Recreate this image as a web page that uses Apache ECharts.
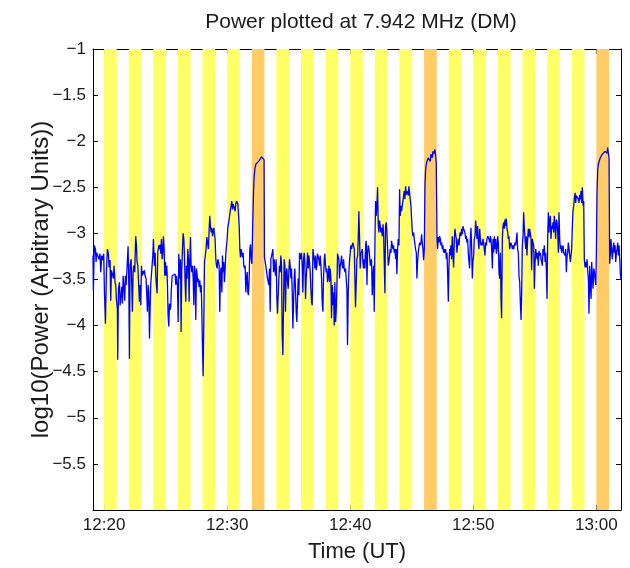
<!DOCTYPE html>
<html><head><meta charset="utf-8">
<script src="https://cdn.jsdelivr.net/npm/echarts@6/dist/echarts.min.js"></script>
<style>html,body{margin:0;padding:0;background:#fff}#c{width:630px;height:568px}</style>
</head><body><div id="c"></div>
<script>
// time in minutes after 12:00 UT
const timeMin = [
19.10,19.13,19.21,19.30,19.35,19.40,19.51,19.59,19.67,19.73,
19.81,19.89,19.97,20.03,20.11,20.19,20.27,20.35,20.41,20.49,
20.54,20.60,20.68,20.76,20.81,20.89,20.95,21.00,21.08,21.11,
21.17,21.25,21.30,21.38,21.44,21.49,21.55,21.63,21.68,21.73,
21.79,21.84,21.90,21.95,22.01,22.06,22.11,22.20,22.25,22.30,
22.36,22.41,22.49,22.57,22.63,22.68,22.74,22.79,22.87,22.93,
22.98,23.04,23.09,23.14,23.20,23.28,23.33,23.41,23.47,23.52,
23.58,23.63,23.69,23.74,23.79,23.85,23.90,23.96,24.01,24.09,
24.15,24.20,24.25,24.31,24.36,24.44,24.50,24.55,24.61,24.66,
24.72,24.77,24.82,24.88,24.93,24.99,25.04,25.10,25.15,25.20,
25.26,25.31,25.37,25.42,25.47,25.53,25.61,25.69,25.77,25.83,
25.88,25.96,26.02,26.07,26.12,
26.15,26.21,26.26,26.31,26.37,26.42,26.48,26.53,26.59,26.64,
26.69,26.75,26.80,26.86,26.91,26.96,27.02,27.07,27.13,27.18,
27.24,27.29,27.34,27.40,27.45,27.51,27.56,27.61,27.67,27.72,
27.78,27.83,27.89,27.94,27.99,28.05,28.10,28.16,28.24,28.29,
28.35,28.43,28.48,28.54,28.59,28.64,28.70,28.75,28.81,28.86,
28.92,28.97,29.02,29.08,29.13,29.19,29.24,29.30,29.35,29.40,
29.46,29.51,29.57,29.62,29.67,29.73,29.78,29.84,29.89,29.95,
30.00,30.05,30.11,30.16,30.22,30.27,30.32,30.38,30.43,30.49,
30.54,30.60,30.65,30.70,30.76,30.81,30.87,30.92,30.98,31.03,
31.08,31.14,31.19,31.25,31.30,31.35,31.41,31.46,31.52,31.57,
31.63,31.68,31.73,31.79,31.84,31.90,31.95,32.01,32.08,32.14,
32.19,32.25,32.33,32.45,32.60,32.71,32.80,32.87,32.95,33.00,
33.03,33.14,33.28,
33.33,33.39,33.44,33.50,33.55,33.60,33.66,33.71,33.77,33.82,
33.88,33.93,33.98,34.04,34.09,34.15,34.20,34.25,34.31,34.36,
34.42,34.47,34.53,34.58,34.63,34.69,34.74,34.80,34.85,34.91,
34.96,35.01,35.07,35.12,35.18,35.23,35.29,35.34,35.39,35.45,
35.50,35.56,35.61,35.66,35.72,35.77,35.83,35.88,35.94,35.99,
36.04,36.10,36.15,36.21,36.26,36.31,36.37,36.42,36.48,36.53,
36.59,36.64,36.69,36.75,36.80,36.86,36.91,36.97,37.02,37.07,
37.13,37.18,37.24,37.29,37.34,37.40,37.45,37.51,37.56,37.62,
37.67,37.72,37.78,37.83,37.89,37.94,37.99,38.05,38.10,38.16,
38.21,38.27,38.32,38.37,38.43,38.48,38.54,38.59,38.65,38.70,
38.75,38.81,38.86,38.92,38.97,39.02,39.08,39.13,39.19,39.24,
39.30,39.35,39.40,39.46,39.51,39.57,39.62,39.67,39.73,39.78,
39.84,39.89,39.95,40.00,40.05,40.11,40.16,40.22,40.27,40.33,
40.38,40.43,
40.49,40.54,40.60,40.65,40.70,40.76,40.81,40.87,40.92,40.98,
41.03,41.08,41.14,41.19,41.25,41.30,41.36,41.41,41.46,41.52,
41.57,41.63,41.68,41.73,41.79,41.84,41.90,41.95,42.01,42.06,
42.11,42.17,42.22,42.28,42.33,42.38,42.44,42.49,42.55,42.60,
42.66,42.71,42.76,42.82,42.87,42.93,42.98,43.04,43.09,43.14,
43.20,43.25,43.31,43.36,43.41,43.47,43.52,43.58,43.63,43.69,
43.74,43.79,43.85,43.90,43.96,44.01,44.06,44.12,44.17,44.23,
44.28,44.34,44.39,44.44,44.50,44.55,44.61,44.66,44.72,44.77,
44.82,44.88,44.93,44.99,45.04,45.09,45.15,45.20,45.26,45.31,
45.37,45.42,45.47,45.53,45.58,45.64,45.69,45.75,45.80,45.85,
45.91,45.96,46.02,46.07,46.12,46.18,46.23,46.29,46.34,46.40,
46.45,46.50,46.56,46.61,46.67,46.72,46.77,46.83,46.88,46.94,
46.99,47.05,47.10,47.15,47.21,47.26,47.32,47.37,47.43,47.48,
47.53,47.59,
47.64,47.70,47.75,47.81,47.86,47.91,47.97,48.02,48.08,48.13,
48.18,48.24,48.29,48.35,48.40,48.46,48.51,48.56,48.62,48.67,
48.73,48.78,48.84,48.89,48.94,49.00,49.05,49.11,49.16,49.21,
49.27,49.32,49.38,49.43,49.49,49.54,49.59,49.65,49.70,49.76,
49.81,49.86,49.92,49.97,50.03,50.08,50.14,50.19,50.24,50.30,
50.35,50.41,50.46,50.52,50.57,50.62,50.68,50.73,50.79,50.84,
50.89,50.95,51.00,51.06,51.11,51.17,51.22,51.27,51.33,51.38,
51.44,51.49,51.55,51.60,51.65,51.71,51.76,51.82,51.87,51.92,
51.98,52.03,52.09,52.14,52.20,52.25,52.30,52.36,52.41,52.47,
52.52,52.57,52.63,52.68,52.74,52.79,52.85,52.90,52.95,53.01,
53.06,53.12,53.17,53.23,53.28,53.33,53.39,53.44,53.50,53.55,
53.60,53.66,53.71,53.77,53.82,53.88,53.93,53.98,54.04,54.09,
54.15,54.20,54.26,54.31,54.36,54.42,54.47,54.53,54.58,54.63,
54.69,54.74,
54.80,54.85,54.91,54.96,55.01,55.07,55.12,55.18,55.23,55.28,
55.34,55.39,55.45,55.50,55.55,55.61,55.66,55.72,55.77,55.83,
55.88,55.93,55.99,56.04,56.10,56.15,56.21,56.26,56.31,56.37,
56.42,56.48,56.53,56.58,56.64,56.69,56.75,56.80,56.86,56.91,
56.96,57.02,57.07,57.13,57.18,57.24,57.29,57.34,57.40,57.45,
57.51,57.56,57.62,57.67,57.72,57.78,57.83,57.89,57.94,57.99,
58.05,58.10,58.16,58.21,58.27,58.32,58.37,58.43,58.48,58.54,
58.59,58.64,58.70,58.75,58.81,58.86,58.92,58.97,59.02,59.08,
59.13,59.19,59.24,59.30,59.35,59.40,59.46,59.51,59.57,59.62,
59.67,59.73,59.78,59.84,59.89,59.95,60.00,60.05,60.11,60.16,
60.22,60.27,60.32,60.38,60.43,60.49,60.54,60.60,60.65,60.70,
60.76,60.81,60.87,60.92,60.98,61.03,61.08,61.14,61.19,61.25,
61.30,61.35,61.41,61.46,61.52,61.57,61.63,61.68,61.73,61.79,
61.84,61.90,61.95,62.00
];
// log10 power (arbitrary units)
const logPower = [
-3.24,-3.62,-3.13,-3.17,-3.31,-3.21,-3.20,-3.28,-3.22,-3.42,
-3.24,-3.29,-3.22,-3.64,-3.98,-3.42,-3.17,-3.22,-3.37,-3.29,
-3.73,-3.40,-3.38,-3.49,-3.35,-3.53,-3.56,-3.71,-3.82,-4.37,
-3.60,-3.53,-3.78,-3.67,-3.58,-3.76,-3.46,-3.44,-3.73,-3.46,
-3.56,-3.44,-3.28,-3.14,-3.56,-4.36,-3.35,-3.28,-3.29,-3.85,
-3.42,-3.35,-3.42,-3.03,-3.13,-3.31,-3.35,-3.49,-3.74,-3.56,
-3.78,-3.35,-3.46,-3.41,-3.44,-3.40,-3.46,-3.49,-3.67,-3.85,
-3.56,-3.64,-4.14,-3.82,-3.56,-3.56,-3.35,-3.24,-3.06,-3.35,
-3.21,-3.46,-3.56,-3.65,-3.21,-3.13,-3.17,-3.12,-3.22,-3.06,
-3.28,-3.21,-3.03,-3.17,-3.46,-3.31,-3.46,-3.35,-3.56,-3.89,
-4.01,-3.76,-3.83,-3.78,-3.60,-3.46,-3.44,-3.46,-3.44,-3.56,
-3.46,-3.56,-3.96,-3.22,-3.22,
-3.49,-3.28,-4.07,-3.42,-3.17,-3.00,-3.06,-3.24,-3.56,-3.74,
-3.35,-3.49,-3.17,-3.28,-3.74,-3.35,-3.04,-3.35,-3.42,-3.35,
-3.49,-3.78,-3.35,-3.42,-3.94,-3.38,-3.40,-3.53,-3.49,-3.58,
-3.51,-3.64,-3.56,-3.82,-4.21,-4.55,-4.00,-3.31,-3.29,-3.17,
-3.04,-3.04,-3.17,-2.95,-2.81,-2.92,-2.99,-2.94,-3.03,-2.97,
-2.94,-3.01,-3.06,-3.28,-3.35,-3.38,-3.28,-3.31,-3.35,-3.85,
-3.42,-3.37,-3.64,-3.24,-3.42,-3.31,-3.53,-3.38,-3.22,-3.24,
-3.06,-2.94,-2.95,-2.85,-2.83,-2.74,-2.70,-2.65,-2.74,-2.68,
-2.70,-2.67,-2.76,-2.68,-2.65,-2.67,-2.68,-2.67,-2.92,-3.17,
-3.26,-3.17,-3.21,-3.26,-3.21,-3.35,-3.38,-3.35,-3.64,-3.49,
-3.42,-3.64,-3.67,-3.49,-3.17,-3.12,-3.28,-3.33,-2.90,-2.55,
-2.40,-2.30,-2.25,-2.24,-2.21,-2.19,-2.17,-2.15,-2.16,-2.20,
-3.26,-3.35,-3.49,
-3.49,-3.56,-3.38,-3.85,-3.28,-3.27,-3.21,-3.17,-3.42,-3.28,
-3.38,-3.46,-3.28,-3.71,-3.87,-3.85,-3.49,-3.35,-3.42,-3.24,
-3.35,-4.10,-4.32,-3.78,-3.28,-3.35,-3.85,-3.42,-3.38,-3.53,
-3.60,-3.42,-3.28,-3.35,-3.49,-3.38,-3.64,-4.03,-3.78,-3.49,
-3.38,-3.64,-3.85,-3.96,-3.71,-3.49,-3.67,-3.21,-3.19,-3.28,
-3.21,-3.35,-3.64,-3.28,-3.21,-3.31,-3.71,-3.49,-3.35,-3.21,
-3.38,-3.24,-3.31,-3.42,-3.60,-3.74,-3.78,-3.17,-3.15,-3.28,
-3.38,-3.24,-3.40,-3.35,-3.22,-3.21,-3.28,-3.35,-3.24,-3.35,
-3.49,-3.74,-3.85,-3.49,-3.28,-3.22,-3.35,-3.42,-3.38,-3.53,
-3.46,-3.35,-3.53,-3.38,-3.49,-3.92,-3.56,-3.78,-3.64,-4.00,
-3.53,-3.96,-3.85,-3.56,-3.22,-3.21,-3.28,-3.49,-3.35,-3.31,
-3.24,-3.35,-3.38,-3.28,-3.38,-3.42,-3.38,-3.49,-3.60,-4.21,
-3.64,-3.42,-3.28,-3.21,-3.13,-3.17,-3.13,-3.10,-3.08,-3.17,
-3.49,-3.80,
-3.53,-3.28,-3.24,-3.06,-2.76,-3.06,-3.38,-3.22,-3.24,-3.17,
-3.31,-3.38,-3.28,-3.38,-3.13,-3.08,-3.56,-3.21,-3.13,-3.17,
-3.24,-3.35,-3.37,-3.28,-3.67,-3.46,-3.35,-3.85,-3.06,-2.65,
-2.81,-2.70,-2.50,-2.92,-2.99,-2.86,-2.92,-2.99,-2.94,-3.03,
-2.90,-2.99,-3.01,-3.65,-2.92,-2.88,-2.99,-3.17,-3.35,-3.31,
-3.24,-3.17,-3.21,-3.08,-3.06,-3.17,-3.13,-3.21,-3.17,-3.28,
-3.17,-3.44,-3.17,-3.06,-3.13,-2.52,-2.81,-2.70,-2.76,-2.74,
-2.65,-2.67,-2.54,-2.63,-2.49,-2.58,-2.54,-2.52,-2.59,-2.49,
-2.56,-2.56,-2.70,-2.85,-2.97,-3.03,-2.99,-3.06,-3.04,-3.17,
-3.21,-3.49,-3.31,-3.21,-3.15,-3.10,-3.13,-3.10,-3.01,-3.10,
-3.17,-3.29,-3.17,-2.49,-2.32,-2.25,-2.22,-2.20,-2.18,-2.18,
-2.16,-2.22,-2.14,-2.16,-2.18,-2.11,-2.14,-2.13,-2.09,-2.16,
-2.23,-3.06,-3.17,-3.04,-3.10,-3.03,-3.06,-3.13,-3.10,-3.17,
-3.13,-3.21,
-3.17,-3.21,-3.17,-3.28,-3.21,-3.42,-3.74,-3.35,-3.17,-3.24,
-3.13,-3.28,-3.03,-3.21,-3.37,-3.06,-2.95,-3.01,-3.06,-3.21,
-3.10,-3.06,-3.13,-3.03,-2.99,-3.03,-2.95,-3.01,-2.92,-2.95,
-2.97,-2.99,-3.06,-3.03,-3.10,-3.06,-3.21,-3.31,-3.38,-3.06,
-2.94,-3.13,-3.49,-3.31,-3.24,-3.06,-3.03,-2.86,-2.95,-3.06,
-2.92,-3.10,-3.17,-2.95,-3.06,-3.13,-3.10,-3.13,-3.06,-3.10,
-3.17,-3.24,-3.10,-3.13,-3.06,-3.03,-3.04,-3.06,-3.10,-3.03,
-3.06,-3.17,-3.38,-3.06,-3.21,-3.03,-3.17,-3.06,-3.22,-3.17,
-3.03,-3.10,-3.42,-3.49,-3.21,-3.71,-3.92,-3.06,-2.92,-2.88,
-2.95,-2.85,-2.92,-2.84,-2.95,-2.99,-3.06,-3.03,-3.17,-3.13,
-3.10,-3.13,-3.17,-3.13,-3.17,-3.13,-3.10,-3.13,-3.06,-2.99,
-3.17,-3.21,-3.46,-3.53,-3.74,-3.94,-3.64,-3.13,-3.03,-2.77,
-2.95,-3.06,-3.17,-3.03,-3.24,-3.06,-2.95,-3.04,-2.95,-2.94,
-3.06,-3.40,
-3.06,-3.10,-3.13,-3.60,-3.35,-3.17,-3.15,-3.28,-3.21,-3.35,
-3.19,-3.24,-3.21,-3.28,-3.31,-3.35,-3.17,-3.24,-3.13,-3.31,
-3.21,-3.38,-3.71,-3.06,-2.77,-2.99,-2.85,-2.81,-3.06,-2.92,
-2.95,-2.88,-2.99,-2.81,-2.92,-3.06,-2.85,-2.88,-2.99,-3.21,
-2.77,-3.06,-3.17,-3.13,-3.21,-3.17,-3.13,-3.21,-3.19,-3.24,
-3.17,-3.42,-3.24,-3.21,-3.10,-3.17,-3.24,-3.31,-3.31,-3.17,
-2.92,-2.76,-2.70,-2.61,-2.56,-2.67,-2.59,-2.61,-2.59,-2.63,
-2.67,-2.58,-2.63,-2.54,-2.67,-2.50,-2.70,-2.65,-3.28,-3.37,
-3.31,-3.37,-3.28,-3.42,-3.49,-3.87,-3.35,-3.56,-3.71,-3.31,
-3.46,-3.60,-3.38,-3.42,-3.49,-3.56,-3.21,-2.56,-2.31,-2.25,
-2.22,-2.20,-2.18,-2.18,-2.16,-2.14,-2.14,-2.13,-2.14,-2.11,
-2.13,-2.09,-2.13,-2.07,-2.14,-2.18,-3.33,-3.21,-3.06,-3.21,
-3.28,-3.17,-3.10,-3.21,-3.13,-3.31,-3.21,-3.17,-3.10,-3.24,
-3.13,-3.28,-3.44,-3.50
];
// shaded intervals (start minute after 12:00), kind: 0 = yellow, 1 = orange
const bandStarts = [20,22,24,26,28,30,32,34,36,38,40,42,44,46,48,50,52,54,56,58,60];
const bandKinds  = [0,0,0,0,0,0,1,0,0,0,0,0,0,1,0,0,0,0,0,0,1];
const bandLength = 1.03;
const xTickValues = [20,30,40,50,60];
const xRange = [19.1, 62.0];
const yRange = [-6, -1];

const FONT = '"Liberation Sans", Arial, Helvetica, sans-serif';
const TXT = '#1a1a1a';
const YELLOW = '#FFFF66';
const ORANGE = '#FFCC66';

const fmtTime = v => {
  const h = 12 + Math.floor(v / 60);
  const m = Math.round(v - Math.floor(v / 60) * 60);
  return h + ':' + String(m).padStart(2, '0');
};
const fmtY = v => (v <= -6 ? '' : (v < 0 ? '\u2212' + String(Math.abs(v)) : String(v)));

const lineData = timeMin.map((t, i) => [t, logPower[i]]);
const bandData = bandStarts.map((s, i) => [s, s + bandLength, bandKinds[i]]);

const axisLine = { show: true, onZero: false, lineStyle: { color: '#000', width: 1 } };
const chart = echarts.init(document.getElementById('c'));
chart.setOption({
  animation: false,
  backgroundColor: '#fff',
  title: {
    text: 'Power plotted at 7.942 MHz (DM)',
    left: 356, top: 7, textAlign: 'center',
    textStyle: { fontFamily: FONT, fontSize: 21, fontWeight: 'normal', color: TXT }
  },
  grid: { left: 93, right: 9, top: 49, bottom: 56, containLabel: false },
  xAxis: [
    {
      type: 'value', position: 'bottom', min: xRange[0], max: xRange[1],
      name: 'Time (UT)', nameLocation: 'middle', nameGap: 31, nameMoveOverlap: false,
      nameTextStyle: { fontFamily: FONT, fontSize: 22, color: TXT },
      axisLine: axisLine,
      axisTick: { show: true, inside: true, length: 5, customValues: xTickValues, lineStyle: { color: '#000' } },
      axisLabel: { customValues: xTickValues, formatter: fmtTime, margin: 7, fontFamily: FONT, fontSize: 17, color: TXT },
      splitLine: { show: false }
    },
    {
      type: 'value', position: 'top', min: xRange[0], max: xRange[1],
      axisLine: axisLine,
      axisTick: { show: true, inside: true, length: 5, customValues: xTickValues, lineStyle: { color: '#000' } },
      axisLabel: { show: false },
      splitLine: { show: false }
    }
  ],
  yAxis: [
    {
      type: 'value', position: 'left', min: yRange[0], max: yRange[1], interval: 0.5,
      name: 'log10(Power (Arbitrary Units))', nameLocation: 'middle', nameGap: 40, nameMoveOverlap: false,
      nameTextStyle: { fontFamily: FONT, fontSize: 24, color: TXT },
      axisLine: axisLine,
      axisTick: { show: true, inside: true, length: 5, lineStyle: { color: '#000' } },
      axisLabel: { formatter: fmtY, margin: 7, fontFamily: FONT, fontSize: 17, color: TXT },
      splitLine: { show: false }
    },
    {
      type: 'value', position: 'right', min: yRange[0], max: yRange[1], interval: 0.5,
      axisLine: axisLine,
      axisTick: { show: true, inside: true, length: 5, lineStyle: { color: '#000' } },
      axisLabel: { show: false },
      splitLine: { show: false }
    }
  ],
  series: [
    {
      type: 'custom', silent: true, z: 1, clip: true,
      xAxisIndex: 0, yAxisIndex: 0,
      encode: { x: [0, 1] },
      data: bandData,
      renderItem: (params, api) => {
        const a = api.coord([api.value(0), yRange[1]]);
        const b = api.coord([api.value(1), yRange[0]]);
        return {
          type: 'rect',
          shape: { x: a[0], y: a[1], width: b[0] - a[0], height: b[1] - a[1] },
          style: { fill: api.value(2) === 1 ? ORANGE : YELLOW }
        };
      }
    },
    {
      type: 'line', z: 3, xAxisIndex: 0, yAxisIndex: 0,
      data: lineData, showSymbol: false, symbol: 'none',
      lineStyle: { color: '#0000FF', width: 1.3 },
      silent: true
    }
  ]
});
</script>
</body></html>
